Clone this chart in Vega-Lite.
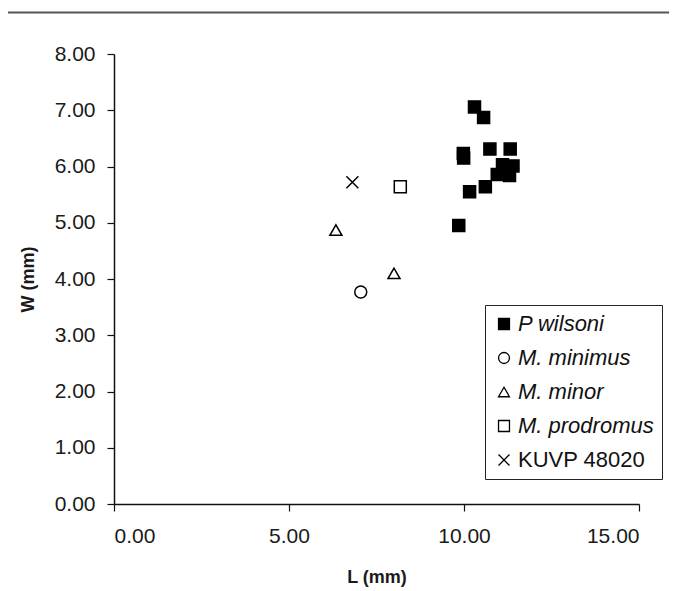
{
  "$schema": "https://vega.github.io/schema/vega-lite/v6.json",
  "width": 525,
  "height": 450,
  "autosize": {"type": "none"},
  "padding": {"left": 114, "top": 54, "right": 40, "bottom": 87},
  "background": "white",
  "config": {
    "view": {"stroke": null},
    "font": "Liberation Sans",
    "axis": {
      "labelFont": "Liberation Sans",
      "labelFontSize": 21,
      "labelColor": "#1a1a1a",
      "titleFont": "Liberation Sans",
      "titleFontSize": 18,
      "titleFontWeight": "bold",
      "titleColor": "#1a1a1a",
      "domainColor": "#111",
      "domainWidth": 1.5,
      "tickColor": "#111",
      "tickWidth": 1.2,
      "tickSize": 7,
      "grid": false
    }
  },
  "datasets": {
    "pts": [
      {"sp": "P wilsoni", "L": 10.30, "W": 7.06},
      {"sp": "P wilsoni", "L": 10.56, "W": 6.87},
      {"sp": "P wilsoni", "L": 9.98, "W": 6.23},
      {"sp": "P wilsoni", "L": 9.99, "W": 6.15},
      {"sp": "P wilsoni", "L": 10.74, "W": 6.31},
      {"sp": "P wilsoni", "L": 11.32, "W": 6.31},
      {"sp": "P wilsoni", "L": 11.10, "W": 6.03},
      {"sp": "P wilsoni", "L": 11.40, "W": 6.01},
      {"sp": "P wilsoni", "L": 11.25, "W": 5.95},
      {"sp": "P wilsoni", "L": 10.95, "W": 5.86},
      {"sp": "P wilsoni", "L": 11.30, "W": 5.84},
      {"sp": "P wilsoni", "L": 10.61, "W": 5.64},
      {"sp": "P wilsoni", "L": 10.16, "W": 5.55},
      {"sp": "P wilsoni", "L": 9.85, "W": 4.95},
      {"sp": "M. minimus", "L": 7.05, "W": 3.77},
      {"sp": "M. minor", "L": 6.34, "W": 4.87},
      {"sp": "M. minor", "L": 8.00, "W": 4.10},
      {"sp": "M. prodromus", "L": 8.18, "W": 5.64},
      {"sp": "KUVP 48020", "L": 6.81, "W": 5.72}
    ],
    "topline": [{"x1": -3.03, "x2": 15.86, "y": 8.74}]
  },
  "layer": [
    {
      "data": {"name": "topline"},
      "mark": {"type": "rule", "color": "#555", "strokeWidth": 2, "clip": false},
      "encoding": {
        "x": {"field": "x1", "type": "quantitative", "scale": {"domain": [0, 15], "nice": false}},
        "x2": {"field": "x2"},
        "y": {"field": "y", "type": "quantitative", "scale": {"domain": [0, 8], "nice": false}}
      }
    },
    {
      "data": {"name": "pts"},
      "mark": {"type": "point", "strokeWidth": 1.5, "opacity": 1, "size": 144},
      "encoding": {
        "x": {
          "field": "L", "type": "quantitative",
          "scale": {"domain": [0, 15], "nice": false},
          "axis": {"values": [0, 5, 10, 15], "format": ".2f", "title": "L (mm)", "labelPadding": 14, "titlePadding": 22}
        },
        "y": {
          "field": "W", "type": "quantitative",
          "scale": {"domain": [0, 8], "nice": false},
          "axis": {"values": [0, 1, 2, 3, 4, 5, 6, 7, 8], "format": ".2f", "title": "W (mm)", "labelPadding": 12, "titlePadding": 17}
        },
        "stroke": {"value": "black"},
        "shape": {
          "field": "sp", "type": "nominal",
          "scale": {
            "domain": ["P wilsoni", "M. minimus", "M. minor", "M. prodromus", "KUVP 48020"],
            "range": ["square", "circle", "triangle-up", "square", "M-1,-1L1,1M1,-1L-1,1"]
          },
          "legend": {
            "title": null,
            "orient": "none",
            "legendX": 371,
            "legendY": 251,
            "strokeColor": "#222",
            "fillColor": "white",
            "padding": 8,
            "labelFont": "Liberation Sans",
            "labelFontSize": 22,
            "labelColor": "#111",
            "labelFontStyle": {"expr": "datum.label === 'KUVP 48020' ? 'normal' : 'italic'"},
            "symbolSize": 120,
            "symbolStrokeWidth": 1.3,
            "rowPadding": 12,
            "labelOffset": 3
          }
        },
        "fill": {
          "field": "sp", "type": "nominal",
          "scale": {
            "domain": ["P wilsoni", "M. minimus", "M. minor", "M. prodromus", "KUVP 48020"],
            "range": ["black", "white", "white", "white", "white"]
          },
          "legend": null
        }
      }
    }
  ]
}
